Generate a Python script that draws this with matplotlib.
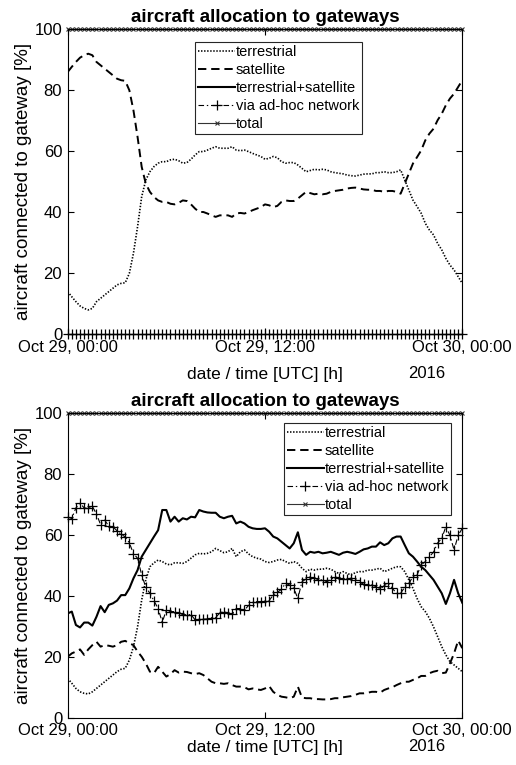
import matplotlib
matplotlib.use('Agg')
import matplotlib.pyplot as plt
import matplotlib.dates as mdates
import pandas as pd

plt.rcParams['font.family'] = ['Liberation Sans', 'DejaVu Sans']
plt.rcParams['lines.scale_dashes'] = False

# time axis: 15 minute steps over one day
times = pd.date_range('2016-10-29 00:00', periods=97, freq='15min')

# upper chart
terr_top = [14, 12.3, 10.7, 9.3, 8.5, 8, 8.5, 10.7, 11.8, 12.9,
            14, 15.1, 16.2, 16.7, 16.9, 20, 26.6, 35.3, 45.1, 50.6,
            53.3, 55, 56.1, 56.6, 56.6, 57.2, 57.4, 56.9, 56.1, 56.3,
            57.4, 58.8, 59.9, 59.9, 60.4, 61, 61.5, 61, 61, 61,
            61.5, 60.4, 60.2, 60.4, 59.9, 59.3, 58.8, 58.3, 57.4, 57.7,
            58.3, 57.9, 56.6, 56.1, 56.3, 56.3, 55.5, 54.4, 53.3, 53.7,
            54.1, 53.9, 54.1, 53.9, 53.3, 53, 52.8, 52.6, 52.2, 52,
            51.9, 52.2, 52.5, 52.6, 52.6, 53, 53, 53.3, 53, 53,
            53.3, 53.9, 50.6, 47.3, 44, 41.9, 39.7, 36.4, 34.2, 32.6,
            29.8, 27.7, 24.9, 22.7, 21.1, 18.9, 16.7]
sat_top = [86, 87.7, 89.3, 90.7, 91.5, 92, 91.5, 89.3, 88.2, 87.1,
           86, 84.9, 83.8, 83.3, 83.1, 80, 73.4, 64.7, 54.9, 49.4,
           46.7, 45, 43.9, 43.4, 43.4, 42.8, 42.6, 43.1, 43.9, 43.7,
           42.6, 41.2, 40.1, 40.1, 39.6, 39, 38.5, 39, 39, 39,
           38.5, 39.6, 39.8, 39.6, 40.1, 40.7, 41.2, 41.7, 42.6, 42.3,
           41.7, 42.1, 43.4, 43.9, 43.7, 43.7, 44.5, 45.6, 46.7, 46.3,
           45.9, 46.1, 45.9, 46.1, 46.7, 47, 47.2, 47.4, 47.8, 48,
           48.1, 47.8, 47.5, 47.4, 47.4, 47, 47, 46.7, 47, 47,
           46.7, 46.1, 49.4, 52.7, 56, 58.1, 60.3, 63.6, 65.8, 67.4,
           70.2, 72.3, 75.1, 77.3, 78.9, 81.1, 83.3]
both_top = [100.0] * 97
adhoc_top = [0.0] * 97
total_top = [100.0] * 97

# lower chart
terr_bot = [13.1, 11.5, 9.8, 8.7, 8.2, 8, 8.7, 9.8, 10.9, 12,
            13.1, 14.2, 15.3, 16.1, 16.4, 19.1, 23.5, 30, 38.8, 45.4,
            49.7, 51, 51.9, 51.4, 50.6, 50.3, 51, 51, 50.8, 51.4,
            52.5, 53.6, 54.1, 53.9, 54.1, 54.6, 55.7, 55, 54.3, 54.6,
            55.7, 53, 54.6, 55.2, 53.9, 53, 52.5, 52.2, 51.4, 51.1,
            51.4, 51.9, 52.1, 51.4, 50.8, 51.4, 50.8, 49.2, 48.1, 48.9,
            48.6, 48.9, 48.9, 49.2, 48.9, 48.1, 47.5, 48.1, 47.5, 47,
            47.8, 48.1, 48.1, 48.6, 48.6, 48.9, 49.2, 48.1, 48.6, 49.2,
            49.7, 49.7, 48.1, 45.4, 42.6, 39.3, 36.6, 35, 32.8, 30,
            26.8, 23.5, 20.8, 18.6, 17.5, 16.4, 15.3]
sat_bot = [20.2, 21.3, 21.9, 22.6, 20.8, 22.6, 24, 25.1, 23.5, 24,
           23.8, 23.5, 24, 25.1, 25.4, 24.6, 24, 21.9, 20.2, 18,
           15.3, 14.8, 16.9, 15.3, 13.7, 14.5, 15.8, 15, 15.3, 15.2,
           14.8, 14.5, 14.8, 14.2, 13.1, 12, 11.5, 11.5, 11.3, 11.5,
           10.9, 10.4, 10.4, 10.2, 9.5, 9.8, 9.5, 9.3, 9.8, 10.6,
           8.7, 7.7, 7.1, 6.9, 6.6, 7.1, 10.4, 6.8, 6.6, 6.6,
           6.3, 6.3, 6.2, 6.2, 6.3, 6.6, 6.6, 6.9, 7.1, 7.3,
           7.7, 8.2, 8.2, 8.4, 8.7, 8.7, 8.4, 9.3, 9.8, 10.2,
           10.9, 11.5, 12, 12, 12.6, 13.1, 13.9, 13.9, 14.8, 15.3,
           15.6, 14.8, 15, 18, 21.3, 25.5, 23]
both_bot = [34.4, 35, 30.6, 29.8, 31.4, 31.4, 30.4, 33.3, 36.8, 34.8,
            37.2, 37.7, 38.6, 40.4, 40.4, 42.6, 45.9, 48.6, 53, 55.2,
            57.4, 59.6, 61.7, 68.3, 68.3, 64.5, 66.1, 64.5, 65.6, 65.2,
            66.1, 65.9, 68.3, 67.8, 67.5, 67.4, 67.4, 66.1, 65.6, 66.1,
            66.4, 63.9, 64.5, 63.9, 62.8, 62.3, 62.1, 62.1, 62.3, 61.2,
            59.6, 59, 57.9, 56.8, 55.7, 57.4, 61, 55.2, 53.6, 54.6,
            54.3, 54.6, 54.1, 54.3, 54.6, 54.1, 53.6, 54.3, 54.6, 54.3,
            53.9, 54.6, 55.4, 55.7, 56.3, 56.3, 57.7, 56.8, 57.4, 59,
            59.6, 59.6, 56.8, 54.1, 53, 51.4, 49.7, 48.6, 47, 45.4,
            43.2, 41, 37.5, 41, 45.4, 41, 37.9]
adhoc_bot = [66, 65.5, 69, 70.5, 69, 68.8, 69.5, 67, 63.5, 65,
             63, 62.8, 61.5, 60.3, 59.5, 57.5, 54, 52.5, 47, 43,
             41, 38.5, 36, 31.5, 35.5, 35, 35, 34.5, 34, 34,
             34, 32.3, 32.5, 32.5, 32.6, 33, 33, 34.6, 35, 34.5,
             34.2, 36, 36, 35.5, 37, 38, 38.3, 38.3, 38.5, 38.6,
             40.4, 41.3, 42.3, 44.3, 43.7, 42.6, 39.3, 44.8, 45.7, 46.4,
             46, 45.4, 45.4, 44.8, 45.5, 46.4, 46, 45.7, 45.6, 46,
             45.5, 44.6, 44, 43.7, 43.7, 43.2, 42.3, 43.5, 44.3, 42.6,
             41, 41, 43, 44.3, 46.4, 47, 50.3, 51.4, 53, 54.5,
             57.5, 59, 62.8, 60, 55.2, 60, 62.3]
total_bot = [100.0] * 97

labels = ['terrestrial', 'satellite', 'terrestrial+satellite',
          'via ad-hoc network', 'total']
tick_times = pd.to_datetime(['2016-10-29 00:00', '2016-10-29 12:00', '2016-10-30 00:00'])


def draw(ax, terr, sat, both, adhoc, total, legend_xy, xpad, label_off):
    ax.plot(times, terr, color='k', lw=1.2, ls=(0, (1, 1.2)), label=labels[0])
    ax.plot(times, sat, color='k', lw=1.4, ls=(0, (6, 3.5)), label=labels[1])
    ax.plot(times, both, color='k', lw=1.5, ls='-', label=labels[2])
    ax.plot(times, adhoc, color='k', lw=0.8, ls=(0, (4, 2, 1, 2)), marker='+',
            ms=7, mew=0.9, label=labels[3], clip_on=False)
    ax.plot(times, total, color='0.2', lw=0.8, ls='-', marker='x',
            ms=3.5, mew=0.8, label=labels[4], clip_on=False)
    ax.set_xlim(tick_times[0], tick_times[-1])
    ax.set_ylim(0, 100)
    ax.set_yticks([0, 20, 40, 60, 80, 100])
    ax.set_xticks(tick_times)
    ax.xaxis.set_major_formatter(mdates.DateFormatter('%b %d, %H:%M'))
    ax.tick_params(direction='in', length=4, width=0.8, top=True, right=True,
                   labelsize=12)
    ax.tick_params(axis='x', pad=xpad)
    ax.tick_params(axis='y', pad=4)
    for s in ax.spines.values():
        s.set_linewidth(0.8)
    ax.set_title('aircraft allocation to gateways', fontsize=13.5,
                 fontweight='bold', pad=5.5)
    ax.set_ylabel('aircraft connected to gateway [%]', fontsize=13.5, labelpad=1.5)
    ax.set_xlabel('date / time [UTC] [h]', fontsize=12.5)
    # x label and year sit on the same line below the tick labels
    ax.xaxis.set_label_coords(0.5, -label_off / 305.0)
    ax.xaxis.label.set_va('center')
    ax.annotate('2016', xy=(0.9105, 0), xycoords='axes fraction',
                xytext=(0, -label_off + 1), textcoords='offset pixels',
                ha='center', va='center', fontsize=12)
    leg = ax.legend(loc='upper left', bbox_to_anchor=legend_xy, fontsize=10.5,
                    handlelength=2.55, handletextpad=0.05, labelspacing=0.27,
                    borderpad=0.2, borderaxespad=0, numpoints=1,
                    fancybox=False, framealpha=1)
    leg.get_frame().set_edgecolor('0.15')
    leg.get_frame().set_linewidth(0.8)


fig = plt.figure(figsize=(5.16, 7.65), dpi=100)
ax1 = fig.add_axes([0.1312, 0.563, 0.7647, 0.3987])
ax2 = fig.add_axes([0.1312, 0.061, 0.7647, 0.3987])

draw(ax1, terr_top, sat_top, both_top, adhoc_top, total_top, (0.3226, 0.958), 4, 40)
draw(ax2, terr_bot, sat_bot, both_bot, adhoc_bot, total_bot, (0.548, 0.968), 3, 29)

fig.savefig('out.png', dpi=100)
